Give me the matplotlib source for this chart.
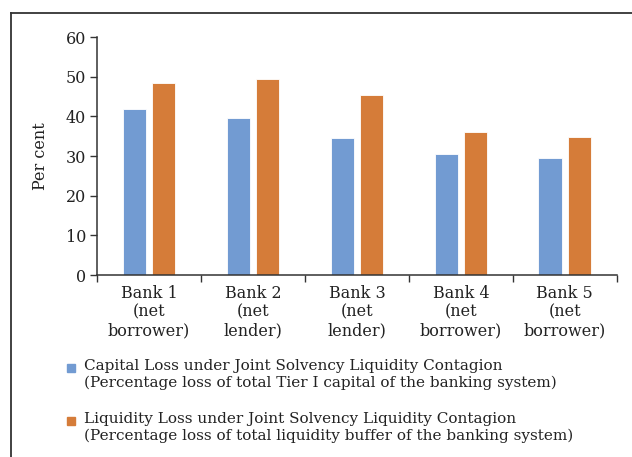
import numpy as np
import matplotlib
matplotlib.use("Agg")
import matplotlib.pyplot as plt
from matplotlib.lines import Line2D
from matplotlib.patches import Rectangle

# Data
banks = ["Bank 1\n(net\nborrower)", "Bank 2\n(net\nlender)", "Bank 3\n(net\nlender)",
         "Bank 4\n(net\nborrower)", "Bank 5\n(net\nborrower)"]
capital_loss = [41.8, 39.7, 34.5, 30.4, 29.5]
liquidity_loss = [48.3, 49.5, 45.3, 36.0, 34.8]
series_labels = [
    "Capital Loss under Joint Solvency Liquidity Contagion\n"
    "(Percentage loss of total Tier I capital of the banking system)",
    "Liquidity Loss under Joint Solvency Liquidity Contagion\n"
    "(Percentage loss of total liquidity buffer of the banking system)",
]
series_colors = ['#729bd2', '#d57c39']
yticks = [0, 10, 20, 30, 40, 50, 60]

plt.rcParams['font.family'] = ['DejaVu Serif']
plt.rcParams['font.size'] = 11.5
text_col = '#222222'

fig = plt.figure(figsize=(6.32, 4.57), dpi=100)
ax = fig.add_axes([0.1535, 0.398, 0.8225, 0.521])

x = np.arange(len(banks))
w = 0.225
off = 0.141
ax.bar(x - off, capital_loss, w, color=series_colors[0], edgecolor='white', linewidth=0.6)
ax.bar(x + off, liquidity_loss, w, color=series_colors[1], edgecolor='white', linewidth=0.6)

ax.set_xlim(-0.5, len(banks) - 0.5)
ax.set_ylim(0, 60)
ax.set_yticks(yticks)
ax.set_xticks(np.arange(len(banks) + 1) - 0.5)
ax.set_xticklabels([])
ax.set_xticks(x, minor=True)
ax.set_xticklabels(banks, minor=True, linespacing=1.12, color=text_col)
ax.tick_params(axis='x', which='minor', length=0, pad=7)
ax.tick_params(axis='x', which='major', length=5, width=1, color='#333333')
ax.tick_params(axis='y', length=5, width=1, color='#333333', labelcolor=text_col, pad=3)
for s in ['top', 'right']:
    ax.spines[s].set_visible(False)
for s in ['left', 'bottom']:
    ax.spines[s].set_color('#333333')
    ax.spines[s].set_linewidth(1.1)
ax.set_ylabel('Per cent', color=text_col, labelpad=12)

# legend: square aligned with the first line of each two-line label
W, H = 632, 457
leg_y = [368, 421]   # pixel centre of first label line
for lab, col, yy in zip(series_labels, series_colors, leg_y):
    fig.add_artist(Rectangle((67 / W, 1 - (yy + 4) / H), 8 / W, 8 / H,
                             color=col, transform=fig.transFigure))
    fig.text(84 / W, 1 - (yy - 9) / H, lab, ha='left', va='top', fontsize=11,
             linespacing=1.2, color=text_col)

# surrounding frame (top and left edges only visible)
fig.add_artist(Line2D([0.0174, 1.0], [0.9716, 0.9716], color='#333333', lw=1.3,
                      transform=fig.transFigure))
fig.add_artist(Line2D([0.0174, 0.0174], [0.0, 0.9716], color='#333333', lw=1.3,
                      transform=fig.transFigure))

fig.savefig('out.png', dpi=100)
